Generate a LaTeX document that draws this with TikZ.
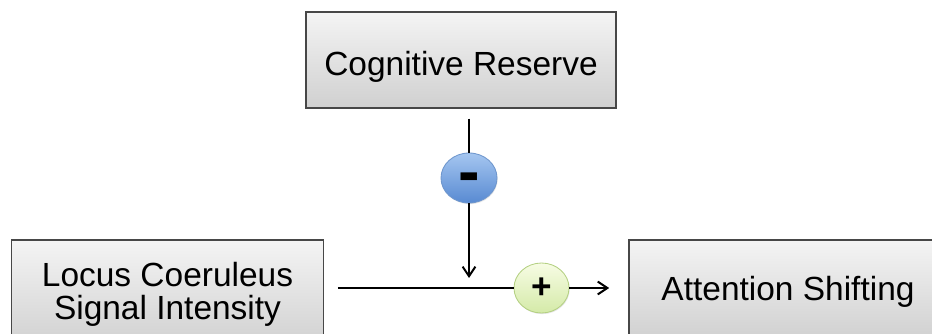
\documentclass[tikz,border=0pt]{standalone}
\usepackage{fontspec}
\setmainfont{Liberation Sans}
\usepackage{tikz}
\usetikzlibrary{shapes.geometric,shadows,arrows.meta}
\definecolor{boxtop}{RGB}{244,244,244}
\definecolor{boxbot}{RGB}{208,208,208}
\definecolor{minustop}{RGB}{165,198,240}
\definecolor{minusbot}{RGB}{88,138,210}
\definecolor{minusline}{RGB}{110,150,205}
\definecolor{plustop}{RGB}{247,252,228}
\definecolor{plusbot}{RGB}{212,234,168}
\definecolor{plusline}{RGB}{180,208,130}
\tikzset{varbox/.style={draw=black!72,line width=0.9pt,top color=boxtop,bottom color=boxbot,
    drop shadow={opacity=0.25,shadow xshift=0.6pt,shadow yshift=-0.8pt},
    font=\fontsize{23.8}{23.4}\selectfont,align=center,inner sep=0pt},
  signnode/.style={ellipse,inner sep=0pt,line width=0.6pt,
    drop shadow={opacity=0.2,shadow xshift=0.5pt,shadow yshift=-0.8pt}},
  link/.style={line width=1.4pt,black},
  tip/.style={-{Straight Barb[length=2.4mm,width=3.2mm]}}}

\begin{document}
\begin{tikzpicture}[x=0.025cm,y=-0.025cm]
  \useasboundingbox (0,0) rectangle (932,334);

  \node [varbox,minimum width=7.75cm,minimum height=2.4cm,
         text height=22.6pt,text depth=1.2pt] (cr) at (461,60) {Cognitive Reserve};
  \node [varbox,minimum width=7.78cm,minimum height=2.7cm] (lc) at (167.5,294) {Locus Coeruleus\\Signal Intensity};
  \node [varbox,minimum width=7.95cm,minimum height=2.5cm,
         text height=16.7pt,text depth=2.4pt] (as) at (788,290) {Attention Shifting};

  \node [signnode,draw=minusline,top color=minustop,bottom color=minusbot,
         minimum width=1.4cm,minimum height=1.25cm,text height=22.6pt,text depth=0pt,
         font=\fontsize{46}{46}\bfseries\selectfont] (minus) at (469,178) {-};
  \node [signnode,draw=plusline,top color=plustop,bottom color=plusbot,
         minimum width=1.375cm,minimum height=1.25cm,
         font=\fontsize{25}{25}\bfseries\selectfont] (plus) at (541.5,288) {+};

  \coordinate (meet) at (minus |- plus);

  \draw [link,shorten <=0.25cm] (minus |- cr.south) -- (minus);
  \draw [link,tip,shorten >=0.25cm] (minus) -- (meet);
  \draw [link,shorten <=0.35cm] (plus -| lc.east) -- (plus);
  \draw [link,tip,shorten >=0.48cm] (plus) -- (plus -| as.west);
\end{tikzpicture}
\end{document}
